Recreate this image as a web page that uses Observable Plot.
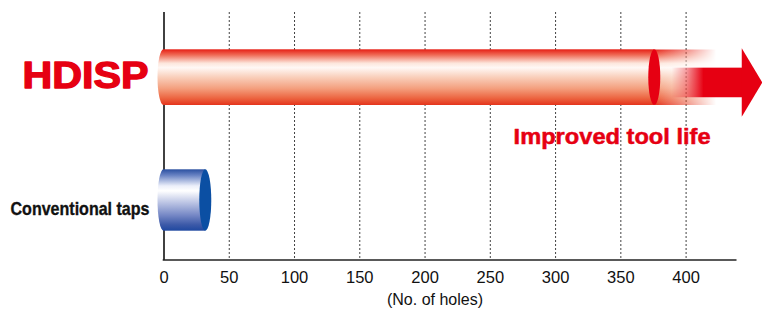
<!DOCTYPE html>
<html>
<head>
<meta charset="utf-8">
<script src="https://cdn.jsdelivr.net/npm/d3@7"></script>
<script src="https://cdn.jsdelivr.net/npm/@observablehq/plot@0.6"></script>
<style>
  html, body { margin: 0; padding: 0; background: #fff; }
  #chart { width: 762px; height: 311px; overflow: hidden; }
</style>
</head>
<body>
<div id="chart"></div>
<script>
// ---- data ----
const categories = ["HDISP", "Conventional taps"];
const holes = [376, 32];
const xTicks = [0, 50, 100, 150, 200, 250, 300, 350, 400];
const gridTicks = [50, 100, 150, 200, 250, 300, 350, 400];
const axisTitle = "(No. of holes)";
const annotation = "Improved tool life";

const rows = categories.map((c, i) => ({category: c, holes: holes[i]}));

// ---- styles ----
const RED = "#e60012";
const rowStyle = {
  "HDISP": {insetTop: 37.3, insetBottom: 31, grad: "gradRed", cap: "#e60012"},
  "Conventional taps": {insetTop: 33.3, insetBottom: 29.3, grad: "gradBlue", cap: "#0b4fa3"}
};

function bandInfo(scales, category) {
  const y = scales.y;
  const bw = y.bandwidth ? y.bandwidth() : (scales.scales && scales.scales.y ? scales.scales.y.bandwidth : 0);
  const s = rowStyle[category];
  const top = y(category) + s.insetTop;
  const bottom = y(category) + bw - s.insetBottom;
  return {top, bottom, mid: (top + bottom) / 2, h: bottom - top};
}

// defs + under-layer: bottom axis line and left convex ends
function underLayer(index, scales, values, dimensions) {
  const g = d3.create("svg:g");
  const defs = g.append("defs");
  const red = defs.append("linearGradient").attr("id", "gradRed")
    .attr("x1", 0).attr("y1", 0).attr("x2", 0).attr("y2", 1);
  [[0, "#e61e14"], [0.1, "#ef6a55"], [0.25, "#fde6dc"], [0.33, "#fff8f5"],
   [0.5, "#f9cfbb"], [0.7, "#f4a07f"], [0.88, "#ec6440"], [1, "#e4341c"]]
    .forEach(([o, c]) => red.append("stop").attr("offset", o).attr("stop-color", c));
  const blue = defs.append("linearGradient").attr("id", "gradBlue")
    .attr("x1", 0).attr("y1", 0).attr("x2", 0).attr("y2", 1);
  [[0, "#2a4fa0"], [0.1, "#6a84c4"], [0.27, "#eceffa"], [0.35, "#ffffff"],
   [0.55, "#b9c2e3"], [0.75, "#7587c5"], [0.9, "#3d5aa8"], [1, "#1f48a0"]]
    .forEach(([o, c]) => blue.append("stop").attr("offset", o).attr("stop-color", c));
  const hfade = defs.append("linearGradient").attr("id", "hfade")
    .attr("x1", 0).attr("y1", 0).attr("x2", 1).attr("y2", 0);
  hfade.append("stop").attr("offset", 0).attr("stop-color", "#fff").attr("stop-opacity", 1);
  hfade.append("stop").attr("offset", 0.5).attr("stop-color", "#fff").attr("stop-opacity", 0.55);
  hfade.append("stop").attr("offset", 1).attr("stop-color", "#fff").attr("stop-opacity", 0);
  const mask = defs.append("mask").attr("id", "fadeMask")
    .attr("maskContentUnits", "objectBoundingBox");
  mask.append("rect").attr("width", 1).attr("height", 1).attr("fill", "url(#hfade)");
  const shaft = defs.append("linearGradient").attr("id", "shaftGrad")
    .attr("x1", 0).attr("y1", 0).attr("x2", 1).attr("y2", 0);
  shaft.append("stop").attr("offset", 0).attr("stop-color", RED).attr("stop-opacity", 0);
  shaft.append("stop").attr("offset", 0.2).attr("stop-color", RED).attr("stop-opacity", 0.35);
  shaft.append("stop").attr("offset", 0.45).attr("stop-color", RED).attr("stop-opacity", 1);
  shaft.append("stop").attr("offset", 1).attr("stop-color", RED).attr("stop-opacity", 1);

  // bottom axis line
  const yb = dimensions.height - dimensions.marginBottom;
  g.append("line")
    .attr("x1", dimensions.marginLeft - 0.8).attr("x2", dimensions.width - dimensions.marginRight)
    .attr("y1", yb).attr("y2", yb)
    .attr("stroke", "#222").attr("stroke-width", 1.6);

  // left convex ends
  rows.forEach(r => {
    const b = bandInfo(scales, r.category);
    g.append("ellipse")
      .attr("cx", scales.x(0)).attr("cy", b.mid)
      .attr("rx", 6).attr("ry", b.h / 2)
      .attr("fill", `url(#${rowStyle[r.category].grad})`);
  });
  return g.node();
}

// over-layer: fading extension, arrow, end caps
function overLayer(index, scales) {
  const g = d3.create("svg:g");
  rows.forEach(r => {
    const b = bandInfo(scales, r.category);
    const xe = scales.x(r.holes);
    if (r.category === "HDISP") {
      g.append("rect")
        .attr("x", xe).attr("y", b.top).attr("width", 62).attr("height", b.h)
        .attr("fill", "url(#gradRed)").attr("mask", "url(#fadeMask)");
      const cy = b.mid + 5.3;
      g.append("rect")
        .attr("x", xe + 17.5).attr("y", cy - 14.8).attr("width", 70.5).attr("height", 29.6)
        .attr("fill", "url(#shaftGrad)");
      g.append("path")
        .attr("d", `M${xe + 87.5},${cy - 34.2}L${xe + 108},${cy}L${xe + 87.5},${cy + 34.2}Z`)
        .attr("fill", RED);
    }
    g.append("ellipse")
      .attr("cx", xe).attr("cy", b.mid)
      .attr("rx", 6).attr("ry", b.h / 2)
      .attr("fill", rowStyle[r.category].cap);
  });
  return g.node();
}

const FONT = "'Liberation Sans', Arial, sans-serif";

const plot = Plot.plot({
  width: 762,
  height: 311,
  marginLeft: 163.5,
  marginRight: 25.5,
  marginTop: 12,
  marginBottom: 51,
  style: {
    fontFamily: FONT,
    fontSize: "16.5px",
    background: "#fff",
    color: "#111"
  },
  x: {domain: [0, 439], axis: null},
  y: {domain: categories, padding: 0, axis: null},
  marks: [
    Plot.ruleX(gridTicks, {stroke: "#222", strokeWidth: 1, strokeDasharray: "2,2", strokeOpacity: 0.85}),
    Plot.ruleX([0], {stroke: "#111", strokeWidth: 1.6}),
    Plot.axisX({ticks: xTicks, tickSize: 0, tickPadding: 11, label: null,
      tickFormat: d => String(d), fontSize: 16.5, fill: "#111"}),
    underLayer,
    Plot.barX(rows.filter(d => d.category === "HDISP"), {
      x1: () => 0, x2: "holes", y: "category",
      fill: "url(#gradRed)", insetTop: rowStyle["HDISP"].insetTop, insetBottom: rowStyle["HDISP"].insetBottom
    }),
    Plot.barX(rows.filter(d => d.category === "Conventional taps"), {
      x1: () => 0, x2: "holes", y: "category",
      fill: "url(#gradBlue)", insetTop: rowStyle["Conventional taps"].insetTop, insetBottom: rowStyle["Conventional taps"].insetBottom
    }),
    overLayer,
    Plot.text(rows.filter(d => d.category === "HDISP"), {
      x: () => 0, y: "category", text: "category", textAnchor: "end", dx: -15.5, dy: 1.4,
      fill: RED, stroke: RED, strokeWidth: 1.3, fontSize: 36.3, fontWeight: "bold"
    }),
    Plot.text(rows.filter(d => d.category === "Conventional taps"), {
      x: () => 0, y: "category", text: "category", textAnchor: "end", dx: -14.5, dy: 11,
      fill: "#111", stroke: "#111", strokeWidth: 0.35, fontSize: 18.5, fontWeight: "bold"
    }),
    Plot.text(rows.filter(d => d.category === "HDISP"), {
      x: "holes", y: "category", text: () => annotation, textAnchor: "end", dx: 55.8, dy: 62.3,
      fill: RED, stroke: RED, strokeWidth: 0.5, fontSize: 21.8, fontWeight: "bold"
    }),
    Plot.text([axisTitle], {
      frameAnchor: "bottom", text: d => d, dx: -15.5, dy: 44, fontSize: 16, fill: "#111"
    })
  ]
});

// fit condensed/stretched label widths as in the original artwork
const fitWidths = {"HDISP": 126, "Conventional taps": 139, "Improved tool life": 197};
plot.querySelectorAll("text").forEach(t => {
  const w = fitWidths[t.textContent];
  if (w) {
    t.setAttribute("textLength", w);
    t.setAttribute("lengthAdjust", "spacingAndGlyphs");
  }
});

document.getElementById("chart").appendChild(plot);
</script>
</body>
</html>
